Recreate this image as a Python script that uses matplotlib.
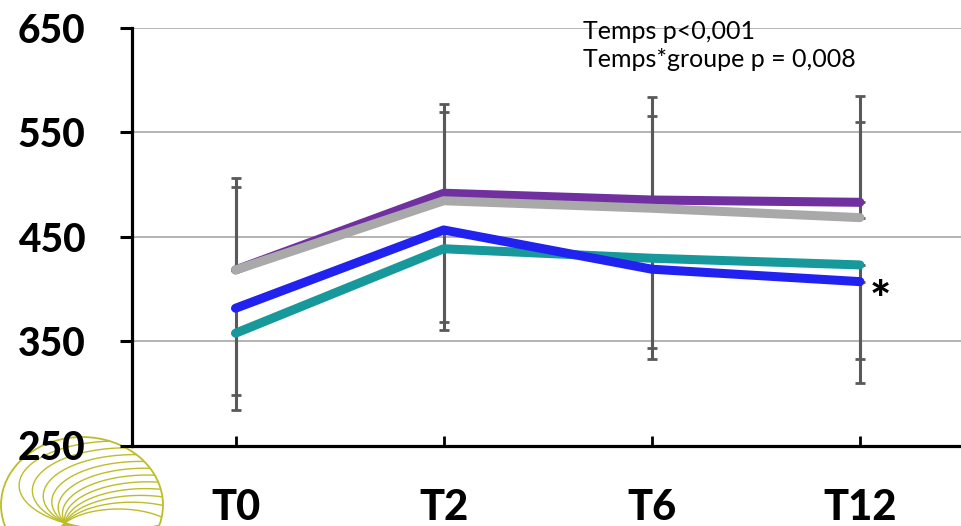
import numpy as np
import matplotlib
matplotlib.use("Agg")
import matplotlib.pyplot as plt
from matplotlib.patches import Ellipse
from matplotlib.lines import Line2D

# ---- data ----
categories = ["T0", "T2", "T6", "T12"]
y_ticks = [250, 350, 450, 550, 650]

purple_mean = [418.2, 491.7, 485.2, 483.0]
gray_mean = [418.2, 484.5, 477.3, 468.3]
blue_mean = [381.5, 456.5, 418.9, 407.0]
teal_mean = [357.6, 438.5, 429.4, 423.0]

# one-sided error bars (upper for purple/gray, lower for blue/teal)
purple_err_up = [506.0 - 418.2, 577.2 - 491.7, 583.6 - 485.2, 585.2 - 483.0]
gray_err_up = [497.4 - 418.2, 569.3 - 484.5, 565.7 - 477.3, 560.2 - 468.3]
blue_err_down = [381.5 - 298.5, 456.5 - 368.1, 418.9 - 343.8, 407.0 - 332.7]
teal_err_down = [357.6 - 284.1, 438.5 - 360.7, 429.4 - 332.7, 423.0 - 309.7]

annot_lines = ["Temps p<0,001", "Temps*groupe p = 0,008"]
signif_mark = "*"

W, H = 961, 526
fig = plt.figure(figsize=(W / 100, H / 100), dpi=100)
fig.patch.set_facecolor("white")

def fx(x):
    return np.asarray(x) / W

def fy(y):
    return 1 - np.asarray(y) / H

ax_left, ax_right, ax_top, ax_bottom = 131.5, 964.0, 28.0, 445.5
ax = fig.add_axes([fx(ax_left), fy(ax_bottom), (ax_right - ax_left) / W, (ax_bottom - ax_top) / H])
ax.set_facecolor("none")

x = np.arange(len(categories))
ecol = "#595959"
eb_kw = dict(fmt="none", ecolor=ecol, elinewidth=2.2, capsize=3.6, capthick=2.0, zorder=2)
ax.errorbar(x, purple_mean, yerr=[np.zeros(4), purple_err_up], **eb_kw)
ax.errorbar(x, gray_mean, yerr=[np.zeros(4), gray_err_up], **eb_kw)
ax.errorbar(x, blue_mean, yerr=[blue_err_down, np.zeros(4)], **eb_kw)
ax.errorbar(x, teal_mean, yerr=[teal_err_down, np.zeros(4)], **eb_kw)

lw = 6.5
line_kw = dict(linewidth=lw, solid_capstyle="round", solid_joinstyle="round")
ax.plot(x, purple_mean, color="#7030A0", zorder=3, **line_kw)
ax.plot(x, gray_mean, color="#A9A9A9", zorder=4, **line_kw)
ax.plot(x, teal_mean, color="#17999C", zorder=5, **line_kw)
ax.plot(x, blue_mean, color="#2121F0", zorder=6, **line_kw)

ax.set_xlim(-0.5, 3.5)
ax.set_ylim(250, 650)
ax.set_yticks(y_ticks)
ax.set_xticks(x)
ax.set_xticklabels(categories)
ax.yaxis.grid(True, color="#A0A0A0", linewidth=1.1, zorder=0)
ax.set_axisbelow(True)

for s in ["top", "right"]:
    ax.spines[s].set_visible(False)
for s in ["left", "bottom"]:
    ax.spines[s].set_linewidth(2.3)
    ax.spines[s].set_color("black")
    ax.spines[s].set_zorder(7)

ax.tick_params(axis="y", direction="out", length=9, width=2.2, pad=24, labelsize=28)
ax.tick_params(axis="x", direction="in", length=7.5, width=2.0, pad=31, labelsize=30)
for lab in ax.get_yticklabels() + ax.get_xticklabels():
    lab.set_fontfamily("Lato")
    lab.set_fontweight(900)

ax.text(3.1, 373, signif_mark, fontsize=36, fontweight=900, family="Lato",
        ha="center", va="baseline", zorder=8)

fig.text(fx(582.7), fy(39.3), annot_lines[0], fontsize=18, family="Lato", va="baseline", ha="left")
fig.text(fx(582.7), fy(66.7), annot_lines[1], fontsize=18, family="Lato", va="baseline", ha="left")

# ---- decorative shell logo (bottom left) ----
logo_col = "#BDBD2A"
ecx, ecy, ea, eb = 82.0, 505.0, 81.0, 68.0
outer = Ellipse((fx(ecx), fy(ecy)), 2 * ea / W, 2 * eb / H, fill=False,
                edgecolor=logo_col, linewidth=1.3, transform=fig.transFigure, zorder=0)
fig.add_artist(outer)
clip = Ellipse((fx(ecx), fy(ecy)), 2 * ea / W, 2 * eb / H, transform=fig.transFigure)
fig.add_artist(clip)
clip.set_visible(False)
P = np.array([65.0, 523.0])
sx = 2.2
thetas = np.deg2rad(np.linspace(148, 60, 11))
tops = np.linspace(82, 14, 11)
s = np.linspace(0, 2 * np.pi, 400)
for th, T in zip(thetas, tops):
    r = T / (1 - np.cos(th))
    cx, cy = r * np.sin(th), -r * np.cos(th)
    phi0 = np.arctan2(-cy, -cx)
    ang = phi0 - s
    xs = cx + r * np.cos(ang)
    ys = cy + r * np.sin(ang)
    X = P[0] + sx * xs
    Y = P[1] - ys
    ln = Line2D(fx(X), fy(Y), color=logo_col, linewidth=1.0, transform=fig.transFigure, zorder=0)
    fig.add_artist(ln)
    ln.set_clip_path(clip)

fig.savefig("out.png", dpi=100, facecolor="white")
